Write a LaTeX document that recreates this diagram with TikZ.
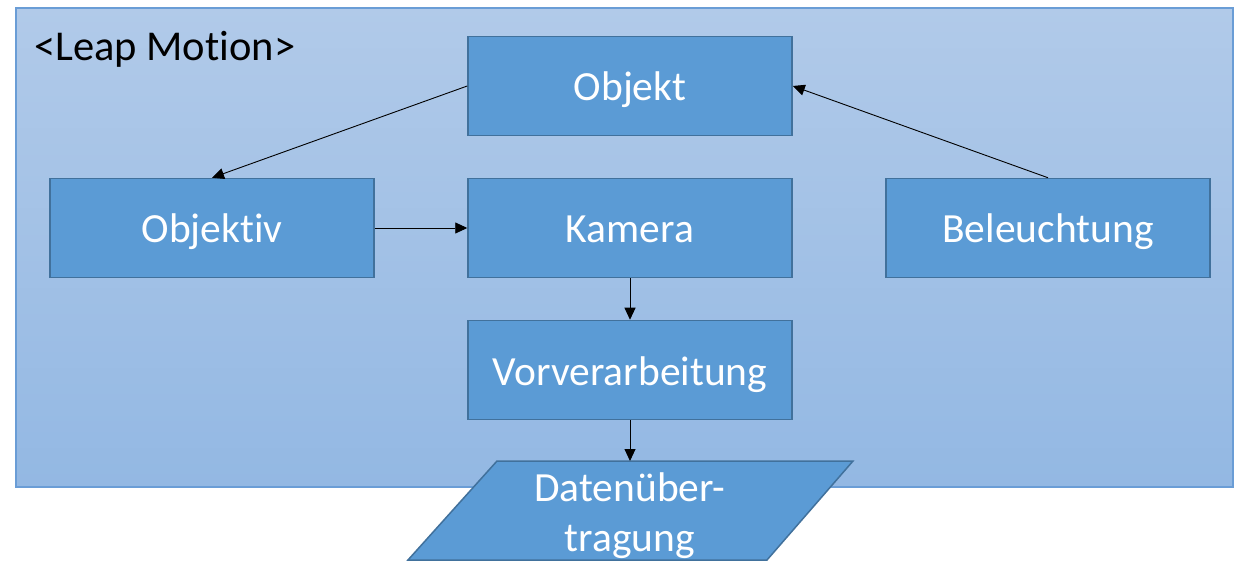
\documentclass[tikz,border=0pt]{standalone}
\usepackage{fontspec}
\setmainfont{Carlito}[Ligatures={NoCommon}]
\usetikzlibrary{arrows.meta}
\definecolor{boxfill}{HTML}{5B9BD5}
\definecolor{boxline}{HTML}{41719C}
\definecolor{bgtop}{HTML}{B1CAE9}
\definecolor{bgbot}{HTML}{93B8E3}
\definecolor{bgline}{HTML}{6A9DD6}
\begin{document}
\begin{tikzpicture}[x=1pt,y=-1pt,
  box/.style={draw=boxline, fill=boxfill, line width=1.5pt, minimum width=324pt,
    minimum height=99pt, inner sep=0pt, text=white, text height=31pt, text depth=1pt,
    font=\fontsize{41.5}{50}\selectfont},
  conn/.style={-{Triangle[length=12pt,width=11pt]}, line width=0.9pt, black}]
\path[use as bounding box, fill=white] (0,0) rectangle (1234,561);
\shade[top color=bgtop, bottom color=bgbot, draw=bgline, line width=1.5pt] (16,8) rectangle (1233,487);
\node[anchor=base west, inner sep=0pt, font=\fontsize{42.5}{50}\selectfont] (lbl) at (34,61) {<Leap Motion>};
\node[box] (obj) at (630,86) {Objekt};
\node[box] (objv) at (212,228) {Objektiv};
\node[box] (kam) at (630,228) {Kamera};
\node[box] (bel) at (1048,228) {Beleuchtung};
\node[box] (vor) at (630,370) {Vorverarbeitung};
\path[draw=boxline, fill=boxfill, line width=1.5pt] (497,461) -- (853,461) -- (767,560) -- (408,560) -- cycle;
\node[text=white, align=center, inner sep=0pt, font=\fontsize{41.5}{50}\selectfont] (dat) at (630,516) {Datenüber-\\tragung};
\coordinate (dattop) at (630,461);
\draw[conn] (obj.west) -- (objv.north);
\draw[conn] (bel.north) -- (obj.east);
\draw[conn] (objv.east) -- (kam.west);
\draw[conn] (kam.south) -- (vor.north);
\draw[conn] (vor.south) -- (dattop);
\end{tikzpicture}
\end{document}
